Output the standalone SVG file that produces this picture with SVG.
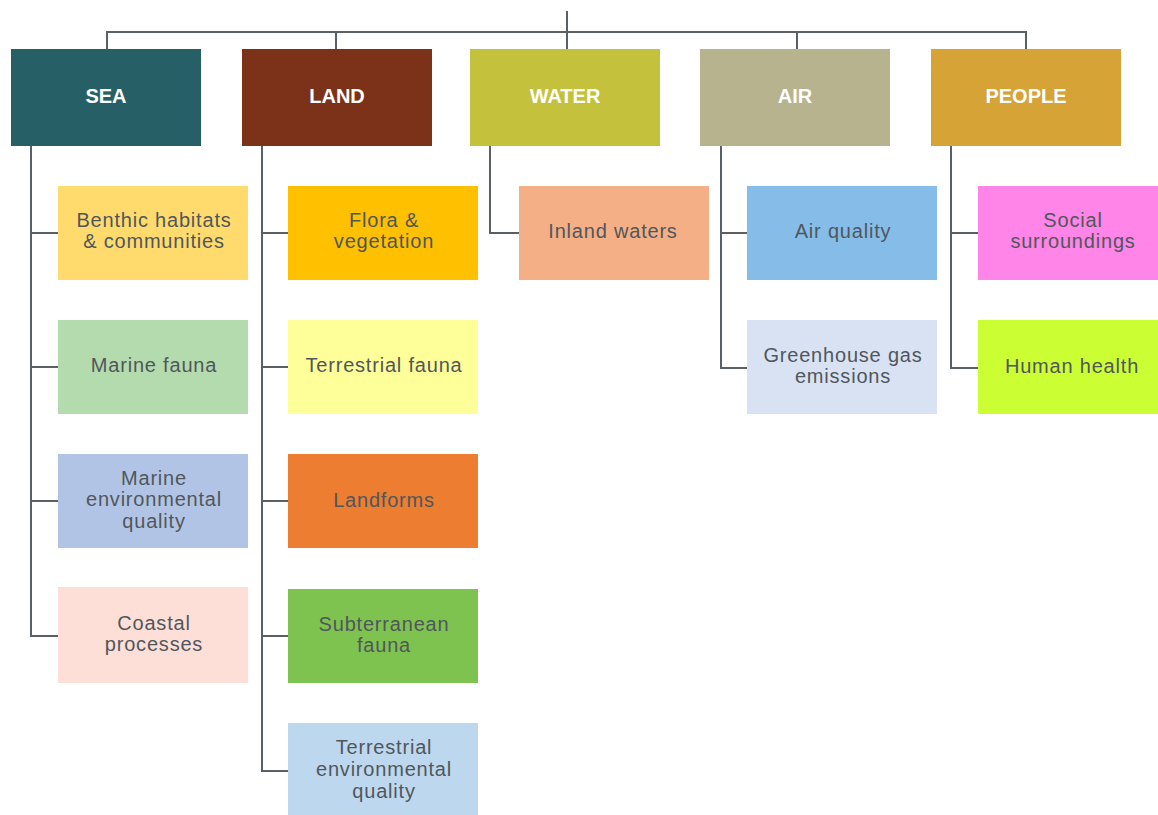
<svg xmlns="http://www.w3.org/2000/svg" width="1158" height="815" viewBox="0 0 1158 815">
  <style>
    .link { fill: none; stroke: #5b6064; stroke-width: 2; }
    .head text { font-family: "Liberation Sans", Arial, sans-serif; font-size: 20px; font-weight: bold; fill: #ffffff; text-anchor: middle; }
    .item text { font-family: "Liberation Sans", Arial, sans-serif; font-size: 20px; letter-spacing: 0.8px; fill: #50575b; text-anchor: middle; }
  </style>
  <rect width="1158" height="815" fill="#ffffff"/>

  <!-- connectors -->
  <g id="connectors" class="link">
    <path d="M567 11 V32"/>
    <path d="M107 49 V32 H1026 V49"/>
    <path d="M336 32 V49"/>
    <path d="M567 32 V49"/>
    <path d="M797 32 V49"/>
    <!-- SEA branch -->
    <path d="M31 146 V636 H58"/>
    <path d="M31 233 H58 M31 367 H58 M31 501 H58"/>
    <!-- LAND branch -->
    <path d="M262 146 V771 H288"/>
    <path d="M262 233 H288 M262 367 H288 M262 501 H288 M262 636 H288"/>
    <!-- WATER branch -->
    <path d="M490 146 V233 H519"/>
    <!-- AIR branch -->
    <path d="M721 146 V368 H747 M721 233 H747"/>
    <!-- PEOPLE branch -->
    <path d="M951 146 V368 H978 M951 233 H978"/>
  </g>

  <!-- top-level headings -->
  <g id="sea" class="head"><rect x="11" y="49" width="190" height="97" fill="#275f66"/><text x="106" y="103">SEA</text></g>
  <g id="land" class="head"><rect x="242" y="49" width="190" height="97" fill="#7b3219"/><text x="337" y="103">LAND</text></g>
  <g id="water" class="head"><rect x="470" y="49" width="190" height="97" fill="#c4c23c"/><text x="565" y="103">WATER</text></g>
  <g id="air" class="head"><rect x="700" y="49" width="190" height="97" fill="#b6b38e"/><text x="795" y="103">AIR</text></g>
  <g id="people" class="head"><rect x="931" y="49" width="190" height="97" fill="#d6a336"/><text x="1026" y="103">PEOPLE</text></g>

  <!-- SEA factors -->
  <g id="benthic" class="item"><rect x="58" y="186" width="190" height="94" fill="#ffdb6e"/><text x="154" y="227">Benthic habitats</text><text x="154" y="248">&amp; communities</text></g>
  <g id="marine-fauna" class="item"><rect x="58" y="320" width="190" height="94" fill="#b3dbad"/><text x="154" y="372">Marine fauna</text></g>
  <g id="marine-env" class="item"><rect x="58" y="454" width="190" height="94" fill="#b2c4e6"/><text x="154" y="485">Marine</text><text x="154" y="506">environmental</text><text x="154" y="528">quality</text></g>
  <g id="coastal" class="item"><rect x="58" y="587" width="190" height="96" fill="#fddfd7"/><text x="154" y="630">Coastal</text><text x="154" y="651">processes</text></g>

  <!-- LAND factors -->
  <g id="flora" class="item"><rect x="288" y="186" width="190" height="94" fill="#ffc000"/><text x="384" y="227">Flora &amp;</text><text x="384" y="248">vegetation</text></g>
  <g id="terr-fauna" class="item"><rect x="288" y="320" width="190" height="94" fill="#ffff99"/><text x="384" y="372">Terrestrial fauna</text></g>
  <g id="landforms" class="item"><rect x="288" y="454" width="190" height="94" fill="#ed7d31"/><text x="384" y="507">Landforms</text></g>
  <g id="subterranean" class="item"><rect x="288" y="589" width="190" height="94" fill="#7ec34f"/><text x="384" y="631">Subterranean</text><text x="384" y="652">fauna</text></g>
  <g id="terr-env" class="item"><rect x="288" y="723" width="190" height="92" fill="#bdd7ee"/><text x="384" y="754">Terrestrial</text><text x="384" y="776">environmental</text><text x="384" y="798">quality</text></g>

  <!-- WATER factors -->
  <g id="inland" class="item"><rect x="519" y="186" width="190" height="94" fill="#f4af86"/><text x="613" y="238">Inland waters</text></g>

  <!-- AIR factors -->
  <g id="air-quality" class="item"><rect x="747" y="186" width="190" height="94" fill="#85bde8"/><text x="843" y="238">Air quality</text></g>
  <g id="ghg" class="item"><rect x="747" y="320" width="190" height="94" fill="#d9e2f3"/><text x="843" y="362">Greenhouse gas</text><text x="843" y="383">emissions</text></g>

  <!-- PEOPLE factors -->
  <g id="social" class="item"><rect x="978" y="186" width="190" height="94" fill="#ff85e9"/><text x="1073" y="227">Social</text><text x="1073" y="248">surroundings</text></g>
  <g id="health" class="item"><rect x="978" y="320" width="190" height="94" fill="#ccff33"/><text x="1072" y="373">Human health</text></g>
</svg>
